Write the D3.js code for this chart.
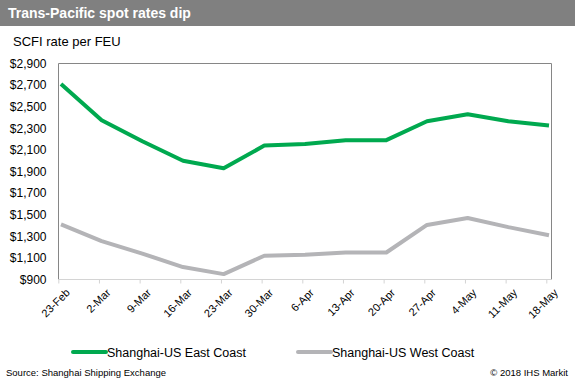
<!DOCTYPE html>
<html>
<head>
<meta charset="utf-8">
<script src="https://cdn.jsdelivr.net/npm/d3@7"></script>
<style>
  body { margin: 0; background: #fff; }
  svg { display: block; font-family: "Liberation Sans", Arial, sans-serif; }
</style>
</head>
<body>
<svg width="575" height="385"></svg>
<script>
(function () {

  const weeks = ["23-Feb", "2-Mar", "9-Mar", "16-Mar", "23-Mar", "30-Mar", "6-Apr",
    "13-Apr", "20-Apr", "27-Apr", "4-May", "11-May", "18-May"];
  const eastCoast = [2710, 2375, 2180, 2000, 1930, 2140, 2155, 2190, 2190, 2365, 2430, 2365, 2325];
  const westCoast = [1410, 1255, 1140, 1015, 950, 1120, 1130, 1150, 1150, 1405, 1470, 1385, 1310];
  const yTicks = [900, 1100, 1300, 1500, 1700, 1900, 2100, 2300, 2500, 2700, 2900];

  const series = [
    { name: "Shanghai-US East Coast", values: eastCoast, color: "#00a94f" },
    { name: "Shanghai-US West Coast", values: westCoast, color: "#b4b4b7" }
  ];

  const plot = { left: 58.5, right: 551.5, top: 63.5, bottom: 279.5 };
  const tickShift = -2.7; // ticks sit a little left of the weekly points

  const svg = d3.select("svg");

  // header band
  svg.append("rect").attr("x", 0).attr("y", 0).attr("width", 575).attr("height", 26)
    .attr("fill", "#808080");
  svg.append("text").attr("x", 8).attr("y", 18)
    .attr("fill", "#fff").attr("font-size", 14).attr("font-weight", "bold")
    .text("Trans-Pacific spot rates dip");

  svg.append("text").attr("x", 13).attr("y", 46)
    .attr("font-size", 13).attr("fill", "#000")
    .text("SCFI rate per FEU");

  const x = d3.scalePoint().domain(weeks).range([61, 549]);
  const y = d3.scaleLinear().domain([900, 2900]).range([plot.bottom, plot.top]);

  // plot frame: dark on left, top, right
  svg.append("path")
    .attr("d", `M${plot.left},${plot.bottom}V${plot.top}H${plot.right}V${plot.bottom}`)
    .attr("fill", "none").attr("stroke", "#868686").attr("stroke-width", 1);

  // y axis labels
  const yAxis = svg.append("g").attr("transform", `translate(${plot.left},0)`)
    .call(d3.axisLeft(y).tickValues(yTicks).tickSize(0).tickPadding(12)
      .tickFormat(d => "$" + d3.format(",")(d)));
  yAxis.select(".domain").remove();
  yAxis.selectAll("text").attr("font-size", 12).attr("fill", "#000")
    .attr("font-family", "Liberation Sans, Arial, sans-serif");

  // x axis
  const xAxis = svg.append("g").attr("transform", `translate(${tickShift},${plot.bottom})`)
    .call(d3.axisBottom(x).tickSize(4).tickSizeOuter(0).tickPadding(6));
  xAxis.select(".domain").remove();
  xAxis.selectAll(".tick line").attr("stroke", "#d4d4d4");
  xAxis.selectAll("text")
    .attr("font-size", 11).attr("fill", "#000")
    .attr("font-family", "Liberation Sans, Arial, sans-serif")
    .attr("text-anchor", "end")
    .attr("dy", "0.35em")
    .attr("transform", "translate(2,4) rotate(-45)");
  svg.append("line")
    .attr("x1", plot.left).attr("x2", plot.right)
    .attr("y1", plot.bottom).attr("y2", plot.bottom)
    .attr("stroke", "#d4d4d4");

  // lines
  const line = d3.line().x((d, i) => x(weeks[i])).y(d => y(d));
  svg.selectAll(".series").data(series.slice().reverse()).enter()
    .append("path")
    .attr("class", "series")
    .attr("d", s => line(s.values))
    .attr("fill", "none")
    .attr("stroke", s => s.color)
    .attr("stroke-width", 4)
    .attr("stroke-linejoin", "round");

  // legend
  const legendX = [73, 298];
  const legend = svg.selectAll(".legend").data(series).enter()
    .append("g").attr("class", "legend")
    .attr("transform", (s, i) => `translate(${legendX[i]},352)`);
  legend.append("line").attr("x1", 0).attr("x2", 33).attr("y1", 0).attr("y2", 0)
    .attr("stroke", s => s.color).attr("stroke-width", 4).attr("stroke-linecap", "round");
  legend.append("text").attr("x", 34).attr("y", 4.5)
    .attr("font-size", 12.5).attr("fill", "#000")
    .text(s => s.name);

  // footer
  svg.append("text").attr("x", 6).attr("y", 376)
    .attr("font-size", 9.5).attr("fill", "#000")
    .text("Source: Shanghai Shipping Exchange");
  svg.append("text").attr("x", 568).attr("y", 376)
    .attr("font-size", 9.5).attr("fill", "#000").attr("text-anchor", "end")
    .text("© 2018 IHS Markit");
})();
</script>
</body>
</html>
